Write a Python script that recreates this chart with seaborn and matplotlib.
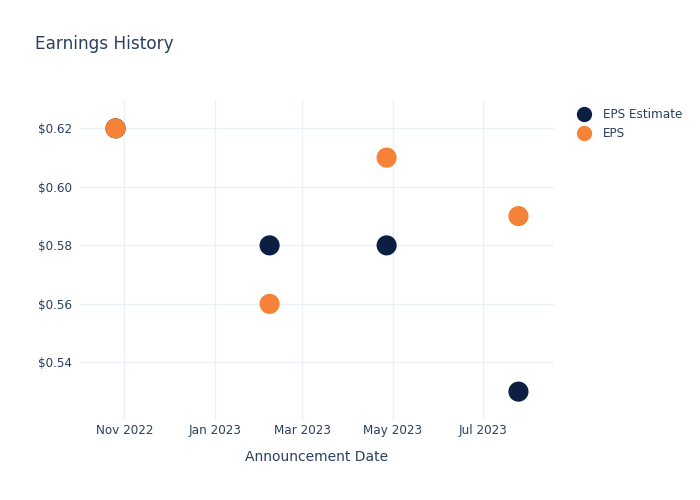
import matplotlib
matplotlib.use("Agg")
import matplotlib.pyplot as plt
import matplotlib.dates as mdates
import matplotlib.ticker as mticker
import seaborn as sns
import pandas as pd
from matplotlib.lines import Line2D

dates = ["2022-10-26", "2023-02-07", "2023-04-27", "2023-07-25"]
eps_estimate = [0.62, 0.58, 0.58, 0.53]
eps_actual = [0.62, 0.56, 0.61, 0.59]
series_names = ["EPS Estimate", "EPS"]
colors = ["#0c1f42", "#f58237"]

df = pd.DataFrame({
    "date": pd.to_datetime(dates * 2),
    "value": eps_estimate + eps_actual,
    "series": [series_names[0]] * 4 + [series_names[1]] * 4,
})

sns.set_theme(style="white")
plt.rcParams["font.family"] = ["DejaVu Sans"]
text_color = "#2a3f5f"
grid_color = "#ebf0f8"

fig = plt.figure(figsize=(7, 5), dpi=100)
ax = fig.add_axes([80 / 700, 80 / 500, 474 / 700, 320 / 500])

sns.scatterplot(data=df, x="date", y="value", hue="series", hue_order=series_names,
                palette=colors, s=210, linewidth=0, ax=ax, legend=False, zorder=3)

ax.set_xlim(pd.Timestamp("2022-10-02"), pd.Timestamp("2023-08-18"))
ax.set_ylim(0.5203, 0.6297)
ax.xaxis.set_major_locator(mdates.MonthLocator(bymonth=[1, 3, 5, 7, 9, 11]))
ax.xaxis.set_major_formatter(mdates.DateFormatter("%b %Y"))
ax.yaxis.set_major_locator(mticker.FixedLocator([0.54, 0.56, 0.58, 0.60, 0.62]))
ax.yaxis.set_major_formatter(mticker.FuncFormatter(lambda v, p: f"${v:.2f}"))

ax.grid(True, color=grid_color, linewidth=1)
ax.set_axisbelow(True)
for sp in ax.spines.values():
    sp.set_visible(False)
ax.tick_params(axis="both", length=0, labelsize=8.64, colors=text_color)
ax.tick_params(axis="x", pad=3)
ax.tick_params(axis="y", pad=6)
ax.set_xlabel("Announcement Date", fontsize=10, color=text_color, labelpad=9)
ax.set_ylabel("")

fig.text(35 / 700, 1 - 44 / 500, "Earnings History", fontsize=12.2, color=text_color,
         va="center", ha="left")

handles = [Line2D([], [], marker="o", linestyle="", markersize=11, color=c, markeredgewidth=0)
           for c in colors]
leg = fig.legend(handles, series_names, loc="upper left",
                 bbox_to_anchor=(572 / 700, 1 - 103 / 500), frameon=False,
                 fontsize=8.64, handletextpad=0.95, labelspacing=0.5, borderaxespad=0,
                 handlelength=1.2)
for t in leg.get_texts():
    t.set_color(text_color)

fig.savefig("out.png", dpi=100)
